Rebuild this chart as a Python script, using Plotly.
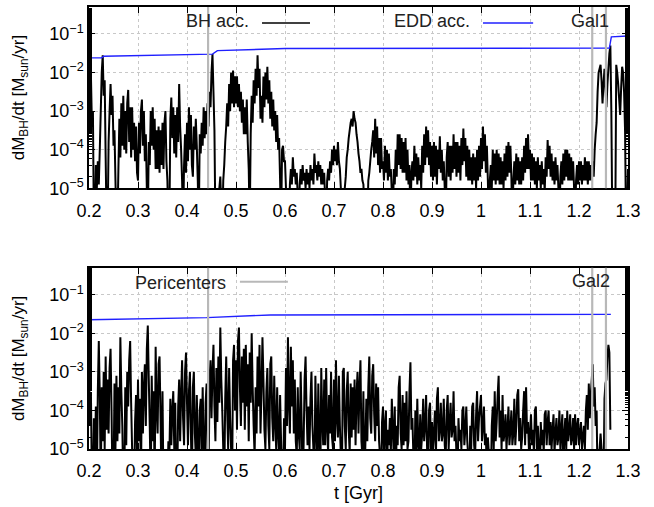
import plotly.graph_objects as go

# ---------------- data ----------------
T0 = 0.2          # first sample time [Gyr]
DT = 0.002        # sampling step [Gyr]

# log10 of BH accretion rate [Msun/yr], Gal1 (values < -5 lie below the axis)
bh_gal1_log10 = [
    -2.0, -2.8, -2.1, -3.4, -3.0, -6, -6, -4.4, -5.0, -4.3,
    -4.9, -4.0, -3.0, -2.0, -1.55, -2.6, -2.2, -4.2, -6, -6,
    -3.8, -3.0, -2.3, -3.1, -2.6, -3.9, -3.5, -4.8, -6, -6,
    -4.5, -3.2, -4.2, -2.8, -3.9, -2.6, -4.0, -3.0, -4.1, -2.8,
    -2.45, -3.8, -2.9, -4.2, -2.9, -4.0, -3.3, -4.3, -3.4, -4.6,
    -4.8, -3.3, -4.1, -3.0, -2.7, -3.9, -3.0, -4.3, -3.6, -5.0,
    -6, -3.8, -4.4, -3.0, -3.9, -2.9, -4.0, -3.2, -4.5, -3.5,
    -4.5, -3.4, -4.6, -3.5, -4.4, -3.3, -4.5, -3.3, -3.0, -4.3,
    -4.8, -6, -6, -3.2, -2.65, -3.7, -2.9, -4.1, -3.1, -4.2,
    -2.9, -3.8, -2.3, -3.4, -4.0, -4.8, -6, -4.4, -3.6, -4.6,
    -3.3, -4.3, -2.9, -4.0, -3.1, -4.4, -4.7, -3.4, -4.0, -3.2,
    -3.9, -4.8, -6, -3.6, -4.1, -3.3, -3.9, -2.9, -3.7, -3.0,
    -3.6, -2.8, -3.4, -2.5, -2.9, -2.0, -1.52, -2.5, -3.5, -6,
    -6, -6, -6, -5.0, -4.7, -5.5, -6, -4.8, -4.4, -3.8,
    -3.4, -2.8, -3.4, -2.3, -3.0, -2.0, -2.8, -1.95, -2.9, -2.1,
    -2.8, -2.1, -2.9, -2.3, -3.0, -2.5, -3.3, -2.7, -3.6, -2.9,
    -3.6, -2.7, -3.8, -4.5, -6, -3.6, -2.6, -3.3, -2.2, -2.8,
    -1.9, -2.6, -1.55, -2.4, -1.9, -3.2, -2.6, -3.3, -2.1, -2.9,
    -2.0, -2.7, -1.85, -2.8, -2.2, -3.2, -2.5, -3.4, -2.7, -3.5,
    -3.0, -3.8, -3.1, -4.0, -3.7, -4.8, -6, -4.0, -3.9, -4.3,
    -4.3, -5.0, -6, -6, -6, -4.9, -4.5, -4.9, -4.2, -4.7,
    -4.5, -4.9, -4.6, -5.2, -6, -4.9, -4.5, -4.9, -4.4, -4.8,
    -4.6, -5.0, -4.5, -4.9, -4.6, -5.0, -4.4, -4.8, -4.5, -4.9,
    -4.1, -4.6, -4.4, -4.8, -4.3, -4.7, -4.4, -4.9, -4.5, -4.9,
    -4.6, -5.3, -6, -4.8, -4.5, -4.8, -4.3, -4.6, -4.0, -4.4,
    -3.9, -4.3, -4.0, -4.4, -3.8, -4.3, -4.5, -5.0, -6, -6,
    -6, -5.0, -4.7, -4.2, -4.0, -3.7, -3.5, -3.3, -3.2, -3.4,
    -3.0, -3.2, -3.3, -3.6, -3.8, -4.1, -4.3, -4.6, -4.5, -4.8,
    -4.9, -5.5, -6, -6, -6, -4.8, -4.6, -4.3, -4.0, -3.8,
    -3.5, -4.2, -3.2, -4.1, -3.4, -4.4, -3.7, -4.6, -3.7, -4.5,
    -4.3, -4.8, -3.9, -4.6, -4.0, -4.8, -4.1, -4.7, -4.5, -5.1,
    -6, -4.5, -4.9, -4.0, -4.7, -3.6, -4.4, -3.6, -4.5, -3.7,
    -4.6, -3.8, -4.6, -3.7, -4.8, -4.0, -4.9, -4.4, -6, -4.6,
    -4.3, -4.8, -3.9, -4.7, -4.1, -4.9, -4.2, -4.8, -4.4, -5.0,
    -3.9, -4.6, -3.6, -4.4, -3.4, -4.2, -3.5, -4.4, -3.8, -4.7,
    -3.9, -4.8, -3.8, -4.7, -3.9, -4.9, -4.0, -4.5, -3.65, -4.6,
    -4.0, -4.8, -4.3, -5.0, -6, -4.2, -3.8, -4.7, -3.9, -4.8,
    -3.9, -4.6, -3.6, -4.5, -3.8, -4.7, -3.8, -4.6, -3.9, -4.8,
    -3.7, -4.4, -3.45, -4.3, -3.7, -4.7, -3.9, -4.8, -4.0, -4.8,
    -4.2, -4.9, -4.1, -4.8, -4.2, -5.0, -4.0, -4.8, -3.9, -4.7,
    -3.7, -4.5, -3.4, -4.3, -3.6, -4.6, -3.9, -4.8, -6, -4.8,
    -4.4, -5.0, -4.0, -4.8, -4.1, -4.9, -4.0, -4.8, -4.1, -4.9,
    -4.2, -4.9, -4.3, -5.0, -4.1, -4.8, -3.9, -4.7, -3.8, -4.6,
    -3.9, -4.7, -6, -4.8, -4.3, -4.9, -4.1, -4.8, -4.2, -4.9,
    -4.3, -4.9, -4.2, -4.8, -3.9, -4.6, -3.7, -4.5, -3.6, -4.5,
    -4.0, -4.8, -4.1, -4.8, -4.2, -4.9, -4.3, -5.0, -4.2, -4.8,
    -4.4, -5.0, -4.3, -4.9, -4.5, -5.1, -4.2, -4.7, -3.75, -4.5,
    -3.9, -4.7, -4.1, -4.8, -4.3, -4.9, -4.2, -4.8, -4.4, -5.0,
    -6, -4.7, -4.3, -4.9, -4.1, -4.8, -4.0, -4.7, -4.0, -4.8,
    -4.1, -4.8, -4.2, -4.8, -4.3, -5.0, -6, -4.8, -4.4, -4.9,
    -4.3, -4.8, -4.3, -4.9, -4.4, -4.8, -4.2, -4.8, -4.3, -4.9,
    -4.3, -4.8, -4.4, -4.8, -4.3, -4.7, -4.0, -3.6, -3.3, -2.5,
    -2.0, -1.9, -1.8, -2.2, -2.8, -2.3, -1.9, -2.4, -2.9, -2.3,
    -1.9, -1.5, -1.3, -3.0, -6, -6, -6, -6, -1.8, -2.0,
    -2.3, -2.7, -3.1, -2.4, -1.85, -2.0, -2.5, -3.5, -6, -6,
    -4.5,
]

# log10 of BH accretion rate [Msun/yr], Gal2
bh_gal2_log10 = [
    -2.8, -4.4, -3.6, -6, -6, -4.2, -5.2, -3.9, -6, -3.5,
    -2.2, -3.6, -6, -3.4, -4.8, -3.0, -5.0, -2.6, -4.5, -3.2,
    -4.6, -2.9, -2.4, -4.0, -6, -6, -3.3, -5.0, -3.1, -4.8,
    -3.4, -4.6, -2.1, -3.5, -4.4, -6, -6, -3.4, -4.9, -3.0,
    -3.9, -2.7, -2.2, -3.8, -5.0, -6, -6, -4.3, -3.6, -5.2,
    -3.2, -4.8, -3.7, -6, -3.0, -4.6, -3.4, -2.8, -4.4, -2.4,
    -1.8, -3.2, -4.4, -6, -3.1, -4.8, -3.5, -6, -2.35, -3.9,
    -4.6, -2.8, -2.6, -4.2, -6, -3.5, -6, -6, -6, -5.0,
    -6, -4.8, -5.2, -3.7, -4.9, -4.0, -3.5, -5.0, -3.8, -6,
    -6, -3.9, -3.2, -4.8, -3.6, -2.7, -4.2, -4.9, -3.0, -2.5,
    -3.8, -4.9, -3.5, -3.0, -4.6, -6, -3.4, -3.0, -4.6, -5.2,
    -3.6, -4.8, -6, -4.0, -3.7, -5.0, -3.4, -4.9, -6, -3.8,
    -3.3, -5.0, -6, -3.2, -2.7, -4.2, -3.0, -2.3, -3.9, -4.8,
    -2.9, -4.3, -2.6, -3.8, -1.85, -3.2, -4.0, -5.0, -6, -3.7,
    -2.6, -4.0, -5.0, -2.9, -4.2, -5.0, -6, -2.7, -2.3, -4.0,
    -2.7, -4.5, -2.2, -1.85, -3.4, -4.4, -2.6, -3.8, -2.4, -4.5,
    -2.3, -3.9, -2.8, -4.8, -2.5, -3.8, -2.0, -3.4, -4.4, -5.2,
    -3.4, -4.6, -2.6, -3.9, -2.3, -4.6, -3.5, -2.1, -3.2, -4.5,
    -5.0, -3.5, -2.9, -4.4, -5.0, -2.8, -2.6, -4.2, -4.8, -3.1,
    -4.3, -5.0, -3.4, -4.6, -5.2, -3.6, -4.8, -6, -6, -4.2,
    -5.0, -2.9, -4.4, -2.1, -3.8, -4.6, -2.35, -3.9, -2.7, -4.6,
    -3.2, -4.8, -5.2, -3.4, -4.6, -5.0, -3.0, -4.3, -6, -4.9,
    -3.2, -2.6, -4.0, -4.9, -3.9, -5.0, -3.7, -3.0, -4.4, -5.0,
    -6, -3.1, -4.5, -5.2, -3.3, -4.7, -6, -2.9, -4.2, -4.9,
    -3.2, -4.9, -2.9, -4.4, -5.1, -3.6, -4.6, -3.0, -4.7, -5.0,
    -3.2, -4.8, -2.7, -4.2, -4.7, -3.1, -4.4, -5.2, -6, -3.0,
    -2.9, -4.4, -5.0, -3.5, -3.0, -4.5, -5.1, -3.3, -4.7, -3.4,
    -4.5, -3.2, -4.9, -3.6, -3.0, -4.6, -3.4, -2.7, -4.8, -5.2,
    -3.5, -6, -4.9, -3.7, -4.8, -3.4, -2.6, -4.2, -4.6, -3.1,
    -2.8, -4.1, -4.8, -3.3, -4.4, -3.4, -4.8, -5.2, -6, -4.3,
    -3.9, -5.2, -4.4, -4.0, -6, -4.5, -4.9, -4.2, -5.1, -3.7,
    -4.5, -5.2, -3.9, -6, -4.4, -4.9, -3.4, -3.1, -4.6, -5.0,
    -3.6, -4.9, -3.8, -4.8, -3.5, -5.0, -4.8, -3.5, -2.75, -4.5,
    -4.2, -5.2, -6, -4.0, -5.0, -3.7, -4.9, -5.2, -4.1, -5.0,
    -4.6, -3.7, -4.8, -4.4, -3.6, -5.0, -6, -4.0, -3.8, -5.0,
    -4.3, -5.0, -4.6, -4.0, -5.2, -3.7, -3.4, -4.8, -4.5, -3.8,
    -4.8, -4.6, -3.7, -4.9, -5.2, -4.0, -3.6, -5.0, -4.3, -3.8,
    -4.7, -4.5, -3.5, -4.8, -4.4, -5.2, -6, -4.2, -4.8, -4.5,
    -5.0, -4.0, -3.9, -4.9, -4.5, -3.9, -4.8, -5.2, -6, -4.4,
    -5.0, -3.9, -3.8, -4.9, -5.2, -4.1, -3.5, -4.8, -4.2, -3.9,
    -3.6, -4.8, -4.4, -3.9, -4.9, -4.6, -6, -4.7, -5.1, -6,
    -6, -4.4, -3.9, -5.0, -3.5, -4.8, -4.3, -3.6, -3.1, -4.7,
    -4.0, -5.0, -3.6, -4.8, -4.6, -4.1, -5.0, -4.5, -3.9, -4.9,
    -4.5, -4.0, -4.9, -4.6, -3.7, -4.9, -4.4, -3.6, -3.45, -4.8,
    -4.2, -5.0, -4.7, -4.0, -3.5, -4.9, -3.4, -4.6, -4.3, -5.1,
    -4.6, -4.1, -4.9, -4.5, -5.1, -4.0, -3.9, -5.0, -4.4, -4.9,
    -6, -4.3, -4.9, -4.5, -5.1, -4.1, -4.0, -4.9, -4.3, -4.0,
    -4.9, -4.3, -5.0, -4.5, -4.1, -5.1, -4.6, -4.2, -4.9, -4.7,
    -4.0, -5.0, -4.5, -4.1, -6, -4.6, -4.2, -5.0, -4.0, -4.8,
    -4.5, -4.1, -4.9, -4.7, -4.2, -5.0, -4.1, -4.9, -4.4, -4.2,
    -4.9, -4.6, -4.3, -5.0, -4.7, -4.4, -5.0, -4.0, -3.6, -4.5,
    -3.3, -4.2, -3.6, -3.2, -2.8, -3.9, -3.4, -4.4, -4.0, -6,
    -6, -5.0, -4.6, -5.0, -6, -6, -3.7, -3.3, -3.2, -2.6,
    -2.3, -2.5, -4.5,
]

# Eddington accretion rate [Msun/yr]
edd_gal1_t = [0.200, 0.226, 0.230, 0.452, 0.462, 0.600, 1.262, 1.266, 1.300]
edd_gal1 = [0.024, 0.024, 0.0265, 0.030, 0.037, 0.042, 0.043, 0.084, 0.089]
edd_gal2_t = [0.200, 0.440, 0.570, 0.800, 1.265]
edd_gal2 = [0.0224, 0.0256, 0.030, 0.0305, 0.031]

pericenters = [0.443, 1.227, 1.255]

x_ticks = [0.2, 0.3, 0.4, 0.5, 0.6, 0.7, 0.8, 0.9, 1.0, 1.1, 1.2, 1.3]
x_ticklabels = ["0.2", "0.3", "0.4", "0.5", "0.6", "0.7", "0.8", "0.9", "1", "1.1", "1.2", "1.3"]
y_ticks = [1e-5, 1e-4, 1e-3, 1e-2, 1e-1]
y_ticklabels = ["10<sup>\u22125</sup>", "10<sup>\u22124</sup>", "10<sup>\u22123</sup>",
                "10<sup>\u22122</sup>", "10<sup>\u22121</sup>"]

# ---------------- figure ----------------
t_gal1 = [round(T0 + DT * i, 4) for i in range(len(bh_gal1_log10))]
t_gal2 = [round(T0 + DT * i, 4) for i in range(len(bh_gal2_log10))]
bh_gal1 = [10 ** v for v in bh_gal1_log10]
bh_gal2 = [10 ** v for v in bh_gal2_log10]

FONT = "Liberation Sans, Arial, Helvetica, sans-serif"
BLACK = "#000000"
BLUE = "#2020ff"
GREY = "#b8b8b8"
FS = 18

fig = go.Figure()
fig.add_trace(go.Scatter(x=t_gal1, y=bh_gal1, mode="lines",
                         line=dict(color=BLACK, width=2.0, simplify=False),
                         xaxis="x", yaxis="y", showlegend=False))
fig.add_trace(go.Scatter(x=edd_gal1_t, y=edd_gal1, mode="lines", line=dict(color=BLUE, width=1.4),
                         xaxis="x", yaxis="y", showlegend=False))
fig.add_trace(go.Scatter(x=t_gal2, y=bh_gal2, mode="lines",
                         line=dict(color=BLACK, width=2.0, simplify=False),
                         xaxis="x2", yaxis="y2", showlegend=False))
fig.add_trace(go.Scatter(x=edd_gal2_t, y=edd_gal2, mode="lines", line=dict(color=BLUE, width=1.4),
                         xaxis="x2", yaxis="y2", showlegend=False))

for xr, yr in (("x", "y"), ("x2", "y2")):
    for tp in pericenters:
        fig.add_shape(type="line", xref=xr, yref=yr + " domain", x0=tp, x1=tp, y0=0, y1=1,
                      line=dict(color=GREY, width=2.2), layer="above")

common_x = dict(range=[0.2, 1.3], tickvals=x_ticks, ticktext=x_ticklabels,
                ticks="inside", ticklen=6, tickcolor=BLACK, tickwidth=1,
                showline=True, linecolor=BLACK, linewidth=1.5, mirror="ticks",
                showgrid=True, gridcolor="#c8c8c8", griddash="dot", gridwidth=1,
                zeroline=False, tickfont=dict(size=FS, color=BLACK, family=FONT),
                ticklabelstandoff=5)
common_y = dict(type="log", range=[-5, -0.3], tickvals=y_ticks, ticktext=y_ticklabels,
                ticks="inside", ticklen=6, tickcolor=BLACK, tickwidth=1,
                showline=True, linecolor=BLACK, linewidth=1.5, mirror="ticks",
                showgrid=True, gridcolor="#c8c8c8", griddash="dot", gridwidth=1,
                zeroline=False, tickfont=dict(size=FS, color=BLACK, family=FONT),
                minor=dict(ticks="inside", ticklen=3, tickcolor=BLACK, showgrid=False),
                title=dict(text="dM<sub>BH</sub>/dt [M<sub>sun</sub>/yr]",
                           font=dict(size=17, color=BLACK, family=FONT), standoff=20))

top_dom = [0.59, 1.0]
bot_dom = [0.0, 0.41]
fig.update_layout(
    width=654, height=507,
    margin=dict(l=89, r=26, t=5, b=58),
    paper_bgcolor="white", plot_bgcolor="white",
    font=dict(family=FONT, color=BLACK),
    xaxis=dict(common_x, domain=[0, 1], anchor="y"),
    yaxis=dict(common_y, domain=top_dom, anchor="x"),
    xaxis2=dict(common_x, domain=[0, 1], anchor="y2",
                title=dict(text="t [Gyr]", font=dict(size=FS, color=BLACK, family=FONT), standoff=6)),
    yaxis2=dict(common_y, domain=bot_dom, anchor="x2"),
)

# key (legend) drawn gnuplot-style: text then line sample
def key_text(xr, yr, x, y, text):
    fig.add_annotation(xref=xr + " domain", yref=yr + " domain", x=x, y=y, text=text,
                       showarrow=False, xanchor="right", yanchor="middle",
                       font=dict(size=FS, color="#222222", family=FONT))

def key_line(xr, yr, x0, x1, y, color, width):
    fig.add_shape(type="line", xref=xr + " domain", yref=yr + " domain",
                  x0=x0, x1=x1, y0=y, y1=y, line=dict(color=color, width=width))

key_text("x", "y", 0.300, 0.925, "BH acc.")
key_line("x", "y", 0.321, 0.410, 0.912, BLACK, 1.6)
key_text("x", "y", 0.711, 0.925, "EDD acc.")
key_line("x", "y", 0.731, 0.824, 0.912, BLUE, 1.4)
key_text("x", "y", 0.968, 0.925, "Gal1")

key_text("x2", "y2", 0.258, 0.918, "Pericenters")
key_line("x2", "y2", 0.280, 0.369, 0.923, GREY, 2.2)
key_text("x2", "y2", 0.970, 0.925, "Gal2")

fig.write_html("out.html")
